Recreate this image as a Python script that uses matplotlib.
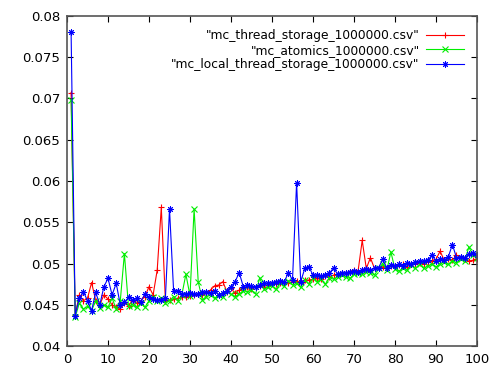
import numpy as np
import matplotlib
matplotlib.use("Agg")
import matplotlib.pyplot as plt

# run index 1..100
x = np.arange(1, 101)

# "mc_thread_storage_1000000.csv"
thread_storage = [
    0.0707, 0.0438, 0.0462, 0.0455, 0.0458, 0.0477, 0.0455, 0.0450, 0.0462, 0.0457,
    0.0450, 0.0447, 0.0445, 0.0452, 0.0449, 0.0455, 0.0452, 0.0455, 0.0460, 0.0472,
    0.0462, 0.0492, 0.0568, 0.0455, 0.0456, 0.0457, 0.0458, 0.0460, 0.0460, 0.0461,
    0.0462, 0.0463, 0.0462, 0.0464, 0.0468, 0.0473, 0.0474, 0.0478, 0.0466, 0.0470,
    0.0464, 0.0468, 0.0470, 0.0471, 0.0469, 0.0472, 0.0473, 0.0472, 0.0474, 0.0476,
    0.0475, 0.0476, 0.0477, 0.0477, 0.0478, 0.0479, 0.0477, 0.0480, 0.0480, 0.0481,
    0.0483, 0.0481, 0.0485, 0.0484, 0.0486, 0.0487, 0.0488, 0.0488, 0.0490, 0.0492,
    0.0491, 0.0528, 0.0494, 0.0507, 0.0494, 0.0494, 0.0496, 0.0495, 0.0497, 0.0497,
    0.0498, 0.0499, 0.0496, 0.0500, 0.0499, 0.0501, 0.0500, 0.0502, 0.0503, 0.0505,
    0.0515, 0.0504, 0.0506, 0.0504, 0.0510, 0.0508, 0.0505, 0.0503, 0.0504, 0.0506,
]

# "mc_atomics_1000000.csv"
atomics = [
    0.0698, 0.0435, 0.0452, 0.0445, 0.0448, 0.0443, 0.0455, 0.0446, 0.0450, 0.0447,
    0.0458, 0.0445, 0.0455, 0.0512, 0.0448, 0.0450, 0.0447, 0.0452, 0.0447, 0.0455,
    0.0460, 0.0455, 0.0458, 0.0452, 0.0455, 0.0460, 0.0455, 0.0462, 0.0487, 0.0461,
    0.0566, 0.0478, 0.0456, 0.0460, 0.0462, 0.0458, 0.0462, 0.0460, 0.0467, 0.0463,
    0.0460, 0.0463, 0.0467, 0.0466, 0.0468, 0.0463, 0.0483, 0.0469, 0.0471, 0.0473,
    0.0469, 0.0476, 0.0473, 0.0479, 0.0474, 0.0476, 0.0471, 0.0480, 0.0475, 0.0482,
    0.0478, 0.0481, 0.0475, 0.0483, 0.0481, 0.0484, 0.0486, 0.0484, 0.0482, 0.0487,
    0.0489, 0.0487, 0.0490, 0.0489, 0.0486, 0.0494, 0.0500, 0.0492, 0.0514, 0.0493,
    0.0491, 0.0495, 0.0492, 0.0498, 0.0494, 0.0499, 0.0494, 0.0497, 0.0499, 0.0496,
    0.0500, 0.0502, 0.0499, 0.0503, 0.0501, 0.0505, 0.0503, 0.0520, 0.0510, 0.0507,
]

# "mc_local_thread_storage_1000000.csv"
local_thread_storage = [
    0.0780, 0.0437, 0.0458, 0.0466, 0.0455, 0.0443, 0.0465, 0.0450, 0.0472, 0.0482,
    0.0462, 0.0476, 0.0450, 0.0453, 0.0459, 0.0456, 0.0458, 0.0454, 0.0463, 0.0459,
    0.0457, 0.0456, 0.0456, 0.0458, 0.0566, 0.0467, 0.0467, 0.0463, 0.0463, 0.0464,
    0.0463, 0.0463, 0.0465, 0.0466, 0.0464, 0.0467, 0.0462, 0.0464, 0.0467, 0.0472,
    0.0478, 0.0489, 0.0472, 0.0474, 0.0473, 0.0471, 0.0474, 0.0476, 0.0476, 0.0477,
    0.0478, 0.0479, 0.0478, 0.0489, 0.0480, 0.0598, 0.0478, 0.0494, 0.0496, 0.0486,
    0.0486, 0.0485, 0.0486, 0.0488, 0.0495, 0.0487, 0.0488, 0.0489, 0.0490, 0.0491,
    0.0490, 0.0492, 0.0493, 0.0492, 0.0494, 0.0495, 0.0505, 0.0495, 0.0498, 0.0497,
    0.0499, 0.0497, 0.0501, 0.0500, 0.0502, 0.0503, 0.0503, 0.0504, 0.0510, 0.0503,
    0.0505, 0.0504, 0.0508, 0.0523, 0.0507, 0.0508, 0.0507, 0.0511, 0.0513, 0.0510,
]

fig = plt.figure(figsize=(5, 3.75), dpi=100)
ax = fig.add_axes([0.134, 0.077, 0.82, 0.881])

ax.plot(x, thread_storage, color="#ff0000", lw=0.8, marker="+", ms=5, mew=0.8,
        label='"mc_thread_storage_1000000.csv"')
ax.plot(x, atomics, color="#00ee00", lw=0.8, marker="x", ms=3.8, mew=0.8,
        label='"mc_atomics_1000000.csv"')
ax.plot(x, local_thread_storage, color="#0000ff", lw=0.8, marker=(8, 2, 0), ms=4.5, mew=0.7,
        label='"mc_local_thread_storage_1000000.csv"')

ax.set_xlim(0, 100)
ax.set_ylim(0.04, 0.08)
ax.set_xticks(np.arange(0, 101, 10))
ax.set_yticks(np.arange(0.04, 0.0801, 0.005))
ax.set_yticklabels(["0.04", "0.045", "0.05", "0.055", "0.06", "0.065", "0.07", "0.075", "0.08"])
ax.tick_params(direction="in", top=True, right=True, length=4, labelsize=9.5, pad=5)
for s in ax.spines.values():
    s.set_color("#555555")
    s.set_linewidth(1.2)

ax.legend(loc="upper right", frameon=False, markerfirst=False, fontsize=8.8,
          handlelength=3.1, borderaxespad=0.9, borderpad=0.2,
          labelspacing=0.12, handletextpad=0.5)

fig.savefig("out.png", dpi=100)
